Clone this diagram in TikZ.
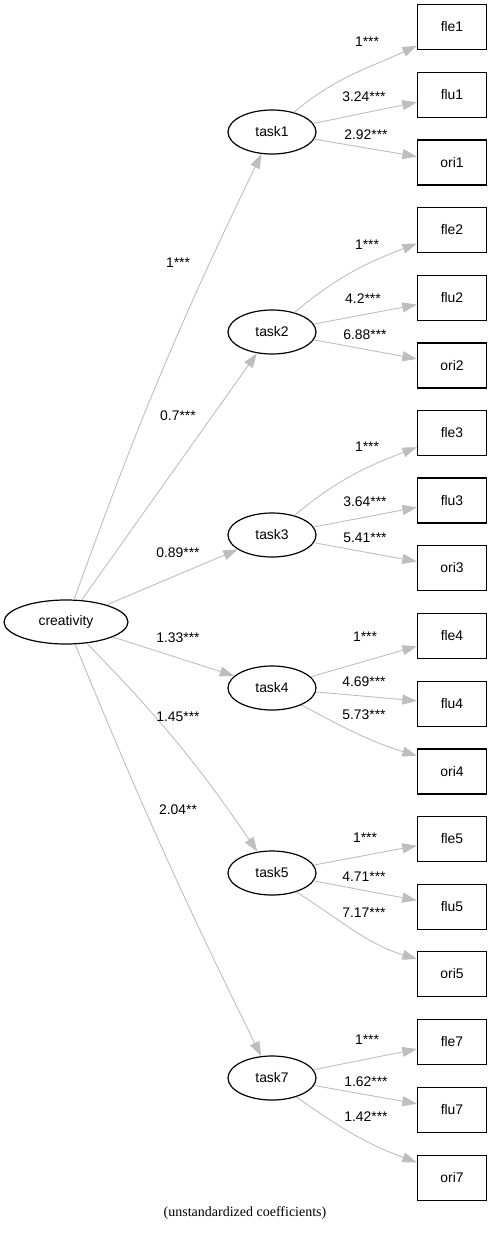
\documentclass[tikz,border=0pt]{standalone}
\usepackage{fontspec}
\setmainfont{Liberation Sans}
\newfontfamily\capfont{Liberation Serif}
\usetikzlibrary{shapes.geometric,arrows.meta}
\definecolor{edgegray}{RGB}{190,190,190}
\begin{document}
\begin{tikzpicture}[x=1pt,y=1pt,
  font=\fontsize{13.9}{16}\selectfont,
  latent/.style={ellipse,draw=black,line width=1.2pt,inner sep=0pt,minimum width=88pt,minimum height=44pt},
  manifest/.style={rectangle,draw=black,line width=1.3pt,inner sep=0pt,minimum width=69pt,minimum height=45pt},
  path/.style={draw=edgegray,line width=0.9pt,-{Triangle[length=14.5pt,width=10pt,fill=edgegray]}},
  coef/.style={inner sep=0pt}]
\useasboundingbox (0,0) rectangle (491,-1234);

% latent nodes
\node[latent,minimum width=124pt] (cr) at (66,-622) {creativity};
\node[latent] (t1) at (272,-132) {task1};
\node[latent] (t2) at (272,-332) {task2};
\node[latent] (t3) at (272,-535) {task3};
\node[latent] (t4) at (272,-688) {task4};
\node[latent] (t5) at (272,-873) {task5};
\node[latent] (t7) at (272,-1078) {task7};

% manifest nodes
\node[manifest] (fle1) at (452,-27) {fle1};
\node[manifest] (flu1) at (452,-95) {flu1};
\node[manifest] (ori1) at (452,-162.5) {ori1};
\node[manifest] (fle2) at (452,-230) {fle2};
\node[manifest] (flu2) at (452,-298) {flu2};
\node[manifest] (ori2) at (452,-365.5) {ori2};
\node[manifest] (fle3) at (452,-433) {fle3};
\node[manifest] (flu3) at (452,-500.5) {flu3};
\node[manifest] (ori3) at (452,-568) {ori3};
\node[manifest] (fle4) at (452,-636) {fle4};
\node[manifest] (flu4) at (452,-704) {flu4};
\node[manifest] (ori4) at (452,-771.5) {ori4};
\node[manifest] (fle5) at (452,-839) {fle5};
\node[manifest] (flu5) at (452,-907) {flu5};
\node[manifest] (ori5) at (452,-974) {ori5};
\node[manifest] (fle7) at (452,-1042) {fle7};
\node[manifest] (flu7) at (452,-1110) {flu7};
\node[manifest] (ori7) at (452,-1178) {ori7};

% structural paths
\draw[path] (cr) to[bend left=3] (t1);
\draw[path] (cr) -- (t2);
\draw[path] (cr) -- (t3);
\draw[path] (cr) -- (t4);
\draw[path] (cr) to[bend left=5] (t5);
\draw[path] (cr) to[bend right=2] (t7);

% measurement paths
\draw[path] (t1.42) to[out=40,in=205] (fle1.208);
\draw[path] (t1) -- (flu1);
\draw[path] (t1) -- (ori1);
\draw[path] (t2.41) to[out=40,in=201] (fle2.201);
\draw[path] (t2) -- (flu2);
\draw[path] (t2) -- (ori2);
\draw[path] (t3.41) to[out=40,in=201] (fle3.202);
\draw[path] (t3) -- (flu3);
\draw[path] (t3) -- (ori3);
\draw[path] (t4) -- (fle4);
\draw[path] (t4) -- (flu4);
\draw[path] (t4.-30) to[out=-28,in=163] (ori4.156);
\draw[path] (t5) -- (fle5);
\draw[path] (t5) -- (flu5);
\draw[path] (t5.-38) to[out=-32,in=163] (ori5.157);
\draw[path] (t7) -- (fle7);
\draw[path] (t7) -- (flu7);
\draw[path] (t7.-38) to[out=-35,in=160] (ori7.156);

% coefficients: structural
\node[coef] (c1) at (178,-263) {1***};
\node[coef] (c2) at (178,-416) {0.7***};
\node[coef] (c3) at (178,-553) {0.89***};
\node[coef] (c4) at (178,-638) {1.33***};
\node[coef] (c5) at (178,-717) {1.45***};
\node[coef] (c7) at (178,-810) {2.04**};

% coefficients: measurement
\node[coef] (l11) at (367,-42) {1***};
\node[coef] (l12) at (364,-97) {3.24***};
\node[coef] (l13) at (366,-135) {2.92***};
\node[coef] (l21) at (367,-245) {1***};
\node[coef] (l22) at (363,-299) {4.2***};
\node[coef] (l23) at (365,-335) {6.88***};
\node[coef] (l31) at (367,-447) {1***};
\node[coef] (l32) at (365,-502) {3.64***};
\node[coef] (l33) at (365,-538) {5.41***};
\node[coef] (l41) at (365,-637) {1***};
\node[coef] (l42) at (364,-682) {4.69***};
\node[coef] (l43) at (364,-715) {5.73***};
\node[coef] (l51) at (365,-838) {1***};
\node[coef] (l52) at (364,-877) {4.71***};
\node[coef] (l53) at (364,-913) {7.17***};
\node[coef] (l71) at (367,-1040) {1***};
\node[coef] (l72) at (366,-1082) {1.62***};
\node[coef] (l73) at (366,-1117) {1.42***};

% caption
\node[coef,font=\capfont\fontsize{14}{16}\selectfont] (cap) at (245,-1213) {(unstandardized coefficients)};
\end{tikzpicture}
\end{document}
